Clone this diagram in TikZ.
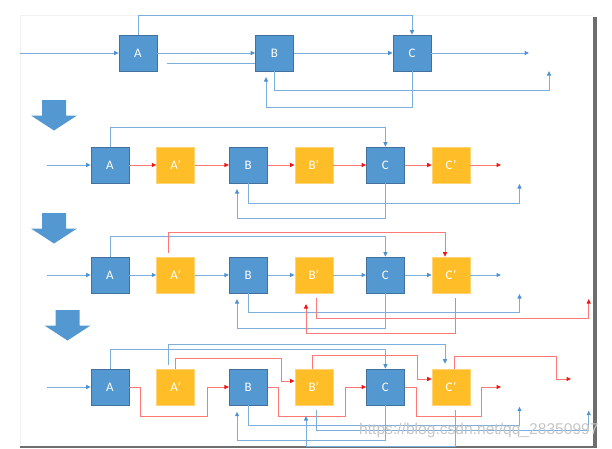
\documentclass[tikz,border=0pt]{standalone}
\usepackage{fontspec}
\setmainfont{Carlito}
\newfontfamily\wmfont{Liberation Sans}
\usepackage{tikz}
\usetikzlibrary{arrows.meta,positioning}
\usepackage{xcolor}
\definecolor{boxblue}{RGB}{84,152,210}
\definecolor{blueedge}{RGB}{65,113,156}
\definecolor{boxgold}{RGB}{255,190,40}
\definecolor{goldedge}{RGB}{255,212,120}
\definecolor{lineblue}{RGB}{125,175,222}
\definecolor{tipblue}{RGB}{80,145,210}
\definecolor{linered}{RGB}{255,120,120}
\definecolor{tipred}{RGB}{240,20,20}
\definecolor{shadowgray}{RGB}{110,110,110}
\tikzset{
  unit/.style={minimum width=38pt,minimum height=36pt,inner sep=0pt,text=white,font=\fontsize{13}{13}\selectfont},
  orig/.style={unit,fill=boxblue,draw=blueedge,line width=0.6pt},
  dupunit/.style={unit,fill=boxgold,draw=goldedge,line width=0.6pt},
  bline/.style={lineblue,line width=1pt},
  barr/.style={bline,-{Triangle[length=4.5pt,width=4pt,color=tipblue]}},
  rline/.style={linered,line width=1pt},
  rarr/.style={rline,-{Triangle[length=4.5pt,width=4pt,color=tipred]}}
}

\begin{document}
\begin{tikzpicture}[x=1pt,y=-1pt]
\useasboundingbox (0,0) rectangle (612,448);
% page with shadow
\draw[gray!10] (20,447) |- (593,15);
\fill[shadowgray] (593,17) rectangle (597,448);
\fill[shadowgray] (20,446) rectangle (597,448);
% big arrows between the steps
\foreach \ax/\ay in {54/100,54/213,67.5/310}
  \fill[boxblue] (\ax-12,\ay) -- (\ax+12,\ay) -- (\ax+12,\ay+15.5) -- (\ax+23,\ay+15.5)
    -- (\ax,\ay+30.5) -- (\ax-23,\ay+15.5) -- (\ax-12,\ay+15.5) -- cycle;

% step 1
\node[orig] (a1) at (138,53) {A};
\node[orig] (b1) at (274.5,53) {B};
\node[orig] (c1) at (412,53) {C};
\coordinate (in1) at (20,53);
\coordinate (out1) at (529,53);
\coordinate (s1) at (167,63);
\coordinate (fb1) at (549,71);
\coordinate (bk1) at (266,77);
\draw[barr] (in1) -- (a1);
\draw[barr] (a1) -- (b1);
\draw[barr] (b1) -- (c1);
\draw[barr] (c1) -- (out1);
\draw[barr] (a1.north) -- ++(0,-19) -| (c1.north);
\draw[bline] (s1) -- (s1 -| b1.west);
\draw[barr] (b1.south) -- ++(0,19) -| (fb1);
\draw[barr] (c1.south) -- ++(0,36) -| (bk1);

% steps 2-4: same boxes
\foreach \p/\py in {2/165,3/275,4/387}{
  \node[orig] (a\p) at (110,\py) {A};
  \node[dupunit,right=27pt of a\p] (ap\p) {A’};
  \node[orig,right=34pt of ap\p] (b\p) {B};
  \node[dupunit,right=27pt of b\p] (bp\p) {B’};
  \node[orig,right=33pt of bp\p] (c\p) {C};
  \node[dupunit,right=27pt of c\p] (cp\p) {C’};
}

% step 2
\coordinate (in2) at (47,165);
\coordinate (out2) at (501,165);
\coordinate (fb2) at (519.5,184);
\coordinate (bk2) at (237,189);
\draw[barr] (in2) -- (a2);
\foreach \u/\v in {a2/ap2,ap2/b2,b2/bp2,bp2/c2,c2/cp2,cp2/out2}
  \draw[rarr] (\u) -- (\v);
\draw[barr] (a2.north) -- ++(0,-19) -| (c2.north);
\draw[barr] (b2.south) -- ++(0,20) -| (fb2);
\draw[barr] (c2.south) -- ++(0,35) -| (bk2);

% step 3
\coordinate (in3) at (47,275);
\coordinate (out3) at (501,275);
\coordinate (fb3) at (519.5,294);
\coordinate (bk3) at (237,299);
\coordinate (rf3) at (588.7,299);
\coordinate (rb3) at (306,304);
\draw[barr] (in3) -- (a3);
\foreach \u/\v in {a3/ap3,ap3/b3,b3/bp3,bp3/c3,c3/cp3,cp3/out3}
  \draw[barr] (\u) -- (\v);
\draw[barr] (a3.north) -- ++(0,-20) -| (c3.north);
\draw[rarr] ([xshift=-7pt,yshift=4pt]ap3.north) -- ++(0,-20) -| ([xshift=-6pt]cp3.north);
\draw[barr] (b3.south) -- ++(0,19) -| (fb3);
\draw[barr] (c3.south) -- ++(0,35) -| (bk3);
\draw[rarr] ([xshift=3pt,yshift=-5pt]bp3.south) -- ++(0,20) -| (rf3);
\draw[rarr] ([xshift=4pt,yshift=-5pt]cp3.south) -- ++(0,35) -| (rb3);

% step 4
\coordinate (in4) at (47,387);
\coordinate (out4) at (501,387);
\coordinate (out4b) at (571,379);
\coordinate (fb4) at (519.5,406.7);
\coordinate (bk4) at (237,411.7);
\coordinate (bf4) at (588.7,410.7);
\coordinate (bb4) at (306,416);
\draw[barr] (in4) -- (a4);
\draw[barr] (a4.north) -- ++(0,-19) -| (c4.north);
\draw[barr] ([xshift=-7pt,yshift=4pt]ap4.north) -- ++(0,-20.5) -| ([xshift=-6pt,yshift=5pt]cp4.north);
\draw[rarr] (a4.east) -- ++(11,0) -- ++(0,29) -| ([xshift=-21pt]b4.west) -- (b4.west);
\draw[rarr] (ap4.north) -- ++(0,-10) -| ([xshift=-13pt,yshift=6pt]bp4.west) -- ([yshift=6pt]bp4.west);
\draw[rarr] (b4.east) -- ++(11,0) -- ++(0,29.5) -| ([xshift=-20.5pt]c4.west) -- (c4.west);
\draw[rarr] ([xshift=-1.5pt]bp4.north) -- ++(0,-13) -| ([xshift=-14pt,yshift=8pt]cp4.west) -- ([yshift=8pt]cp4.west);
\draw[rarr] (c4.east) -- ++(12,0) -- ++(0,29.5) -| ([xshift=-19.5pt]out4) -- (out4);
\draw[rarr] ([xshift=3pt]cp4.north) -- ++(0,-12.5) -| ([xshift=-15pt]out4b) -- (out4b);
\draw[barr] (b4.south) -- ++(0,20) -| (fb4);
\draw[barr] (c4.south) -- ++(0,35) -| (bk4);
\draw[barr] ([xshift=3pt,yshift=-5pt]bp4.south) -- ++(0,20) -| (bf4);
\draw[barr] ([xshift=4pt,yshift=-5pt]cp4.south) -- ++(0,36) -| (bb4);

\node[anchor=base west,inner sep=0pt,text=gray!45,font=\wmfont\fontsize{15.6}{16}\selectfont] (wm) at (359,434) {https://blog.csdn.net/qq\_28350997};
\end{tikzpicture}
\end{document}
